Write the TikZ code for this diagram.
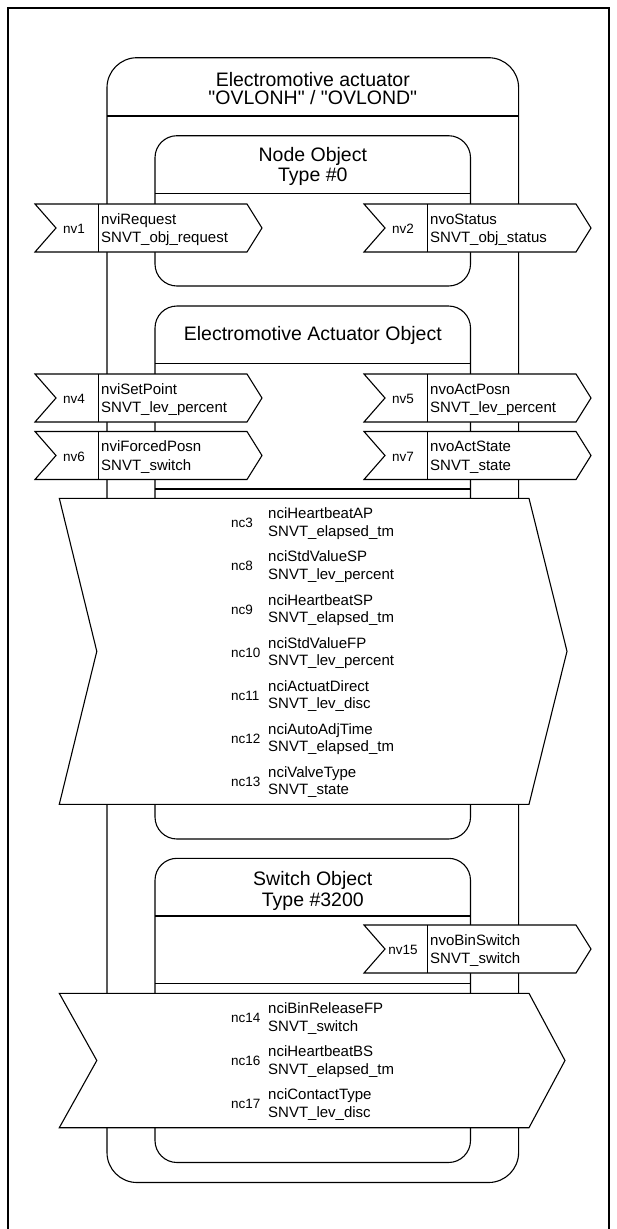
\documentclass[tikz,border=0pt]{standalone}
\usepackage{fontspec}
\setmainfont{Liberation Sans}[Ligatures=TeXOff]
\begin{document}
\begin{tikzpicture}[x=1pt,y=-1pt,
  boxline/.style={draw=black,line width=1.1pt},
  thinline/.style={draw=black,line width=0.6pt},
  arrowshape/.style={draw=black,line width=1.1pt,fill=white},
  titletext/.style={font=\fontsize{19.5}{20}\selectfont,anchor=base,inner sep=0pt},
  itemtext/.style={font=\fontsize{15}{16}\selectfont,anchor=base west,inner sep=0pt},
  labeltext/.style={font=\fontsize{13.5}{14}\selectfont,anchor=base,inner sep=0pt},
  nclabel/.style={font=\fontsize{13.5}{14}\selectfont,anchor=base west,inner sep=0pt}]
\useasboundingbox (0,0) rectangle (617,1229);
% frame
\draw[boxline] (8,1229) -- (8,8) -- (609,8) -- (609,1229);
% outer device box
\draw[boxline,rounded corners=30pt] (107,57.7) rectangle (518.6,1182.5);
\draw[boxline] (107,116) -- (518.6,116);
\node[titletext] (devtitle1) at (312.8,86) {Electromotive actuator};
\node[titletext] (devtitle2) at (312.8,104.5) {"OVLONH" / "OVLOND"};
% node object
\draw[boxline,rounded corners=22pt] (155,135.7) rectangle (470.5,286);
\draw[boxline] (155,193.3) -- (470.5,193.3);
\node[titletext] (nodeobj1) at (312.8,161) {Node Object};
\node[titletext] (nodeobj2) at (312.8,181) {Type \#0};
% electromotive actuator object
\draw[boxline,rounded corners=22pt] (155,306) rectangle (470.5,839);
\draw[boxline] (155,363.3) -- (470.5,363.3);
\draw[boxline] (155,489) -- (470.5,489);
\node[titletext] (eaobj) at (312.8,340.5) {Electromotive Actuator Object};
% switch object
\draw[boxline,rounded corners=22pt] (155,858.3) rectangle (470.5,1162.5);
\draw[boxline] (155,916) -- (470.5,916);
\draw[boxline] (155,983.3) -- (470.5,983.3);
\node[titletext] (swobj1) at (312.8,885.5) {Switch Object};
\node[titletext] (swobj2) at (312.8,906) {Type \#3200};
% small network variable arrows
\newcommand\nvarrow[6]{%
  \draw[arrowshape] (#2,#3-24) -- (#2+212,#3-24) -- (#2+227,#3) -- (#2+212,#3+24) -- (#2,#3+24) -- (#2+21,#3) -- cycle;
  \draw[thinline] (#2+63,#3-24) -- (#2+63,#3+24);
  \node[labeltext] (#1) at (#2+39,#3+5.5) {#4};
  \node[itemtext] (#1n) at (#2+66,#3-4) {#5};
  \node[itemtext] (#1t) at (#2+66,#3+14.5) {#6};
}
\nvarrow{nva}{35}{228}{nv1}{nviRequest}{SNVT\_obj\_request}
\nvarrow{nvb}{364}{228}{nv2}{nvoStatus}{SNVT\_obj\_status}
\nvarrow{nvd}{35}{398}{nv4}{nviSetPoint}{SNVT\_lev\_percent}
\nvarrow{nve}{364}{398}{nv5}{nvoActPosn}{SNVT\_lev\_percent}
\nvarrow{nvf}{35}{455.5}{nv6}{nviForcedPosn}{SNVT\_switch}
\nvarrow{nvg}{364}{455.5}{nv7}{nvoActState}{SNVT\_state}
\nvarrow{nvo}{364}{949}{nv15}{nvoBinSwitch}{SNVT\_switch}
% configuration property arrows
\newcommand\ncitem[5]{%
  \node[nclabel] (#1) at (231,#2+4.5) {#3};
  \node[itemtext] (#1n) at (268,#2-4.5) {#4};
  \node[itemtext] (#1t) at (268,#2+13) {#5};
}
\draw[arrowshape] (59.3,498.3) -- (529,498.3) -- (567,651.3) -- (529,804.3) -- (59.3,804.3) -- (96.8,651.3) -- cycle;
\ncitem{nca}{523.3}{nc3}{nciHeartbeatAP}{SNVT\_elapsed\_tm}
\ncitem{ncb}{566.4}{nc8}{nciStdValueSP}{SNVT\_lev\_percent}
\ncitem{ncc}{609.5}{nc9}{nciHeartbeatSP}{SNVT\_elapsed\_tm}
\ncitem{ncd}{652.6}{nc10}{nciStdValueFP}{SNVT\_lev\_percent}
\ncitem{nce}{695.7}{nc11}{nciActuatDirect}{SNVT\_lev\_disc}
\ncitem{ncf}{738.8}{nc12}{nciAutoAdjTime}{SNVT\_elapsed\_tm}
\ncitem{ncg}{781.9}{nc13}{nciValveType}{SNVT\_state}
\draw[arrowshape] (59.3,993.3) -- (529,993.3) -- (565,1060.5) -- (529,1127.7) -- (59.3,1127.7) -- (96.8,1060.5) -- cycle;
\ncitem{nch}{1018}{nc14}{nciBinReleaseFP}{SNVT\_switch}
\ncitem{nci}{1061}{nc16}{nciHeartbeatBS}{SNVT\_elapsed\_tm}
\ncitem{ncj}{1104}{nc17}{nciContactType}{SNVT\_lev\_disc}
\end{tikzpicture}
\end{document}
